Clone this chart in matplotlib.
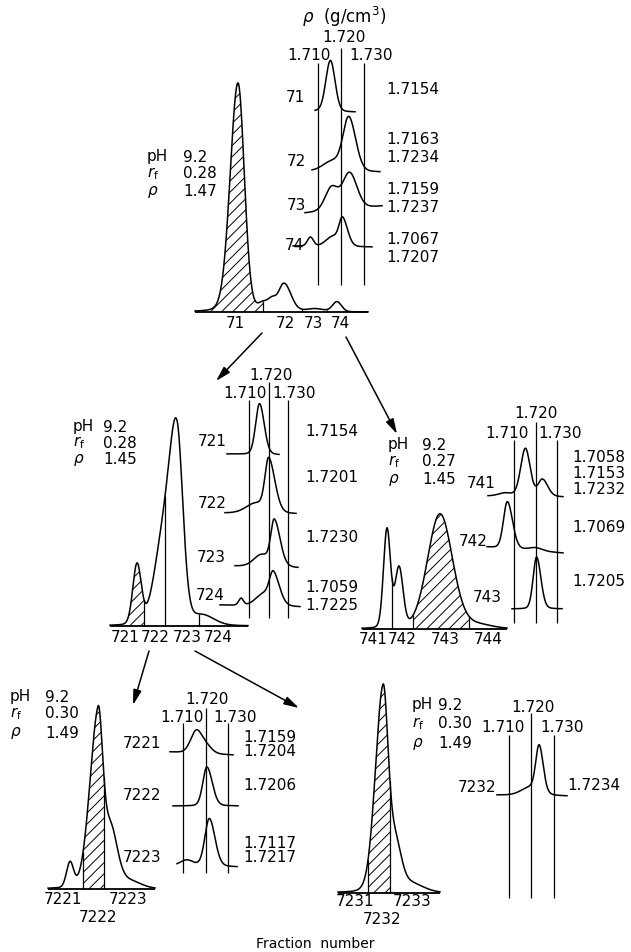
import numpy as np
import matplotlib.pyplot as plt

plt.rcParams['font.family'] = ['DejaVu Sans']
plt.rcParams['mathtext.fontset'] = 'dejavusans'
plt.rcParams['hatch.linewidth'] = 0.7

W, H = 631, 952

# ---------------- data: elution profiles (position, height, left/right width) ----
chrom_A_pos = [43, 68, 77, 89, 120, 142]
chrom_A_hgt = [229, 8, 10, 28, 3, 10]
chrom_A_wl = [7.8, 5, 4, 5.5, 9, 4.5]
chrom_A_wr = [6.3, 5, 4, 7, 9, 4.5]
chrom_A_names = ['71', '72', '73', '74']
chrom_A_cuts = [68, 107, 132]

chrom_B_pos = [27, 53, 67, 92]
chrom_B_hgt = [60, 80, 180, 10]
chrom_B_wl = [4.2, 9, 7.5, 12]
chrom_B_wr = [4.2, 9, 6, 12]
chrom_B_names = ['721', '722', '723', '724']
chrom_B_cuts = [34, 55, 89]

chrom_C_pos = [25, 37, 78, 115]
chrom_C_hgt = [99, 60, 115, 4]
chrom_C_wl = [3.5, 4, 12.5, 14]
chrom_C_wr = [3.5, 4, 12.5, 14]
chrom_C_names = ['741', '742', '743', '744']
chrom_C_cuts = [30, 51, 107]

chrom_D_pos = [22, 50, 62, 80]
chrom_D_hgt = [25, 168, 60, 8]
chrom_D_wl = [3.5, 8.4, 7, 12]
chrom_D_wr = [3.5, 4.5, 7, 12]
chrom_D_names = ['7221', '7223', '7222']
chrom_D_cuts = [35, 56]

chrom_E_pos = [45, 57, 70]
chrom_E_hgt = [200, 45, 10]
chrom_E_wl = [7.7, 6, 14]
chrom_E_wr = [5, 6, 14]
chrom_E_names = ['7231', '7233', '7232']
chrom_E_cuts = [30, 52]

# run conditions per column
cond_pH = ['9.2', '9.2', '9.2', '9.2', '9.2']
cond_rf = ['0.28', '0.28', '0.27', '0.30', '0.30']
cond_rho = ['1.47', '1.45', '1.45', '1.49', '1.49']

# ---------------- data: density profiles (g/cm3) ----------------
rho_grid = [1.710, 1.720, 1.730]

rho_A_names = ['71', '72', '73', '74']
rho_A_listed = [[1.7154], [1.7163, 1.7234], [1.7159, 1.7237], [1.7067, 1.7207]]
rho_A_peaks = [[1.7154], [1.7163, 1.7234], [1.7159, 1.7237], [1.7067, 1.7165, 1.7207]]
rho_A_hgt = [[51], [10, 53], [23, 36], [9, 10, 26]]
rho_A_wl = [[0.0020], [0.0040, 0.0025], [0.0028, 0.0030], [0.0013, 0.0030, 0.0015]]
rho_A_wr = [[0.0020], [0.0040, 0.0030], [0.0028, 0.0032], [0.0013, 0.0030, 0.0022]]

rho_B_names = ['721', '722', '723', '724']
rho_B_listed = [[1.7154], [1.7201], [1.7230], [1.7059, 1.7225]]
rho_B_peaks = [[1.7154], [1.7135, 1.7201], [1.7165, 1.7230], [1.7059, 1.7175, 1.7225]]
rho_B_hgt = [[51], [10, 52], [12, 45], [7, 12, 30]]
rho_B_wl = [[0.0020], [0.0050, 0.0019], [0.0040, 0.0018], [0.0012, 0.0040, 0.0020]]
rho_B_wr = [[0.0024], [0.0050, 0.0032], [0.0040, 0.0030], [0.0012, 0.0040, 0.0032]]

rho_C_names = ['741', '742', '743']
rho_C_listed = [[1.7058, 1.7153, 1.7232], [1.7069], [1.7205]]
rho_C_peaks = [[1.7058, 1.7153, 1.7232], [1.7069, 1.7200], [1.7205]]
rho_C_hgt = [[3, 48, 17], [47, 3], [52]]
rho_C_wl = [[0.0030, 0.0022, 0.0020], [0.0018, 0.0030], [0.0016]]
rho_C_wr = [[0.0030, 0.0022, 0.0025], [0.0024, 0.0030], [0.0020]]

rho_D_names = ['7221', '7222', '7223']
rho_D_listed = [[1.7159, 1.7204], [1.7206], [1.7117, 1.7217]]
rho_D_peaks = [[1.7159, 1.7204], [1.7206], [1.7117, 1.7217]]
rho_D_hgt = [[22, 7], [39], [6, 48]]
rho_D_wl = [[0.0025, 0.0025], [0.0018], [0.0030, 0.0020]]
rho_D_wr = [[0.0025, 0.0025], [0.0024], [0.0030, 0.0025]]

rho_E_names = ['7232']
rho_E_listed = [[1.7234]]
rho_E_peaks = [[1.7195, 1.7234]]
rho_E_hgt = [[8, 46]]
rho_E_wl = [[0.0040, 0.0015]]
rho_E_wr = [[0.0040, 0.0018]]


def peaks(x, pos, hgt, wl, wr, eta):
    y = np.zeros_like(x, dtype=float)
    for c, h, a, b in zip(pos, hgt, wl, wr):
        s = np.where(x < c, a, b)
        u = (x - c) / s
        y += h * ((1 - eta) * np.exp(-0.5 * u**2) + eta / (1 + (u / 1.1774)**2))
    return y


fig = plt.figure(figsize=(W / 100, H / 100), dpi=100)
base = fig.add_axes([0, 0, 1, 1], facecolor='none')
base.set_xlim(0, W)
base.set_ylim(H, 0)
base.axis('off')


def overlay(d0, p0, d1, p1):
    # transparent full-figure axes, data d0/d1 sit on pixel columns p0/p1
    ax = fig.add_axes([0, 0, 1, 1], facecolor='none')
    s = (p1 - p0) / (d1 - d0)
    lo = d0 - p0 / s
    ax.set_xlim(lo, lo + W / s)
    ax.set_ylim(H, 0)
    ax.axis('off')
    return ax


def chrom(left, y0, span, pos, hgt, wl, wr, cuts, hatch, names, ticks, rows, dy, eta=0.1):
    ax = overlay(0, left, 1, left + 1)
    x = np.linspace(0, span, 800)
    y = peaks(x, pos, hgt, wl, wr, eta)
    ax.plot([0, span], [y0, y0], color='k', lw=1.3, solid_capstyle='butt')
    ax.plot(x, y0 - y, color='k', lw=1.1)
    m = (x >= hatch[0]) & (x <= hatch[1])
    ax.fill_between(x[m], y0, y0 - y[m], facecolor='none', edgecolor='k',
                    hatch='///', lw=0)
    c = np.array(cuts, float)
    ax.vlines(c, y0, y0 - peaks(c, pos, hgt, wl, wr, eta), color='k', lw=0.9)
    for t, n, r in zip(ticks, names, rows):
        ax.text(t, y0 + dy + 17 * r, n, ha='center', va='center', fontsize=11)


def dens(p710, p730, top_mid, top_out, bottom, hdr, names, peaks_r, hgt, wl, wr,
         listed, xr, bl, br, lab_xy, val_x, val_y, eta=0.15):
    ax = overlay(rho_grid[0], p710, rho_grid[2], p730)
    ppu = (p730 - p710) / (rho_grid[2] - rho_grid[0])
    ax.vlines([rho_grid[0], rho_grid[2]], top_out, bottom, color='k', lw=0.9)
    ax.vlines(rho_grid[1], top_mid, bottom, color='k', lw=0.9)
    (hx1, hy1), (hx0, hy0), (hx2, hy2) = hdr
    base.text(hx1, hy1, f'{rho_grid[1]:.3f}', ha='center', va='center', fontsize=11)
    base.text(hx0, hy0, f'{rho_grid[0]:.3f}', ha='center', va='center', fontsize=11)
    base.text(hx2, hy2, f'{rho_grid[2]:.3f}', ha='center', va='center', fontsize=11)
    for i, n in enumerate(names):
        r0 = rho_grid[0] + (xr[i][0] - p710) / ppu
        r1 = rho_grid[0] + (xr[i][1] - p710) / ppu
        x = np.linspace(r0, r1, 400)
        yb = bl[i] + (br[i] - bl[i]) * (x - r0) / (r1 - r0)
        y = peaks(x, peaks_r[i], hgt[i], wl[i], wr[i], eta)
        ax.plot(x, yb - y, color='k', lw=1.1)
        base.text(lab_xy[i][0], lab_xy[i][1], n, ha='center', va='center', fontsize=11)
        for v, yy in zip(listed[i], val_y[i]):
            base.text(val_x, yy, f'{v:.4f}', ha='left', va='center', fontsize=11)


def cond(x0, x1, ys, k):
    base.text(x0, ys[0], 'pH', ha='left', va='center', fontsize=11)
    base.text(x0, ys[1], r'$\mathit{r}_\mathrm{f}$', ha='left', va='center', fontsize=11)
    base.text(x0, ys[2], r'$\rho$', ha='left', va='center', fontsize=11)
    base.text(x1, ys[0], cond_pH[k], ha='left', va='center', fontsize=11)
    base.text(x1, ys[1], cond_rf[k], ha='left', va='center', fontsize=11)
    base.text(x1, ys[2], cond_rho[k], ha='left', va='center', fontsize=11)


# ---- top: fractions 71-74 ----
chrom(195, 312, 173, chrom_A_pos, chrom_A_hgt, chrom_A_wl, chrom_A_wr,
      chrom_A_cuts, (0, 68), chrom_A_names, [40, 90, 118, 145], [0, 0, 0, 0], 11)
cond(147, 183, [157, 174, 192], 0)
base.text(344, 17, r'$\rho$  (g/cm$^3$)', ha='center', va='center', fontsize=12)
dens(318, 364, 48, 63, 285, [(344, 38), (309, 55), (371, 55)],
     rho_A_names, rho_A_peaks, rho_A_hgt, rho_A_wl, rho_A_wr, rho_A_listed,
     [(315, 355), (312, 380), (305, 382), (293, 372)],
     [111, 171, 213, 246], [112, 172, 206, 247],
     [(295, 98), (296, 162), (296, 205), (294, 245)], 386,
     [[90], [140, 157], [190, 207], [240, 257]], eta=0.1)

# ---- middle left: fractions 721-724 ----
chrom(110, 626, 138, chrom_B_pos, chrom_B_hgt, chrom_B_wl, chrom_B_wr,
      chrom_B_cuts, (0, 34), chrom_B_names, [15, 45, 77, 108], [0, 0, 0, 0], 11)
cond(73, 103, [427, 443, 460], 1)
dens(249, 288, 382, 400, 618, [(271, 375), (245, 393), (294, 393)],
     rho_B_names, rho_B_peaks, rho_B_hgt, rho_B_wl, rho_B_wr, rho_B_listed,
     [(227, 279), (225, 296), (235, 298), (220, 300)],
     [454, 513, 566, 605], [455, 514, 568, 607],
     [(212, 442), (212, 503), (211, 558), (210, 595)], 305,
     [[432], [478], [537], [588, 605]])

# ---- middle right: fractions 741-744 ----
chrom(362, 629, 145, chrom_C_pos, chrom_C_hgt, chrom_C_wl, chrom_C_wr,
      chrom_C_cuts, (51, 107), chrom_C_names, [11, 40, 83, 126], [0, 0, 0, 0], 10)
cond(388, 422, [445, 462, 480], 2)
dens(514, 557, 422, 440, 623, [(536, 413), (507, 433), (560, 433)],
     rho_C_names, rho_C_peaks, rho_C_hgt, rho_C_wl, rho_C_wr, rho_C_listed,
     [(488, 563), (487, 563), (512, 562)],
     [496, 547, 609], [497, 553, 609],
     [(481, 483), (473, 542), (487, 597)], 572,
     [[457, 474, 490], [527], [582]])

# ---- bottom left: fractions 7221-7223 ----
chrom(48, 889, 107, chrom_D_pos, chrom_D_hgt, chrom_D_wl, chrom_D_wr,
      chrom_D_cuts, (35, 56), chrom_D_names, [15, 80, 50], [0, 0, 1], 11)
cond(10, 45, [697, 714, 733], 3)
dens(183, 228, 708, 723, 873, [(207, 700), (182, 718), (235, 718)],
     rho_D_names, rho_D_peaks, rho_D_hgt, rho_D_wl, rho_D_wr, rho_D_listed,
     [(170, 233), (173, 238), (177, 237)],
     [752, 806, 866], [755, 806, 867],
     [(142, 744), (142, 796), (142, 857)], 243,
     [[737, 752], [786], [843, 858]])

# ---- bottom right: fractions 7231-7233 ----
chrom(338, 893, 102, chrom_E_pos, chrom_E_hgt, chrom_E_wl, chrom_E_wr,
      chrom_E_cuts, (30, 52), chrom_E_names, [17, 74, 44], [0, 0, 1], 9)
cond(412, 438, [705, 724, 744], 4)
dens(509, 554, 713, 735, 898, [(533, 708), (503, 728), (562, 728)],
     rho_E_names, rho_E_peaks, rho_E_hgt, rho_E_wl, rho_E_wr, rho_E_listed,
     [(497, 567)], [795], [796], [(477, 787)], 567, [[786]])

# ---- arrows between steps ----
for (x0, y0), (x1, y1) in [((262, 333), (216, 381)), ((346, 337), (397, 434)),
                           ((149, 651), (133, 705)), ((195, 651), (299, 708))]:
    base.annotate('', xy=(x1, y1), xytext=(x0, y0),
                  arrowprops=dict(arrowstyle='-|>,head_length=0.9,head_width=0.25',
                                  color='k', lw=1.1, shrinkA=0, shrinkB=0))

base.text(315, 944, 'Fraction  number', ha='center', va='center', fontsize=10)

fig.savefig('out.png', dpi=100)
